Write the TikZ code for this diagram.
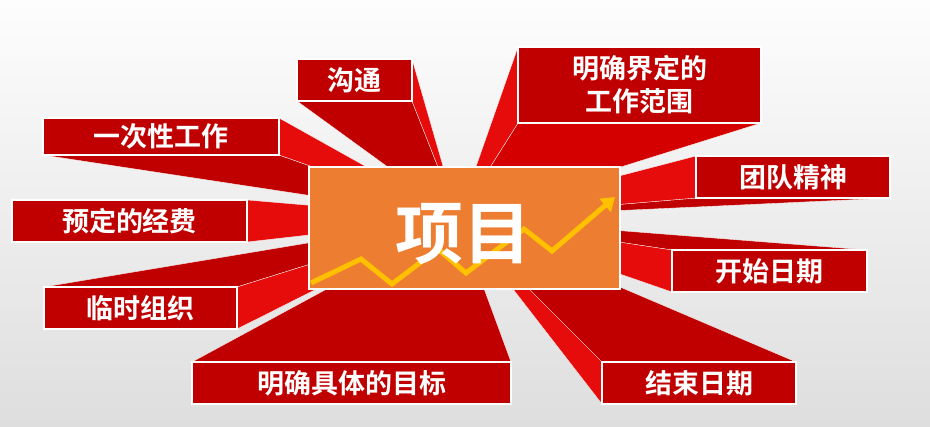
\documentclass[tikz,border=0pt]{standalone}
\usepackage{fontspec}
\newfontfamily\cjk{Noto Sans CJK SC}[BoldFont={Noto Sans CJK SC Bold}]
\usetikzlibrary{arrows.meta}
\definecolor{dred}{HTML}{C00000}
\definecolor{lred}{HTML}{E60C0C}
\definecolor{mred}{HTML}{D40000}
\definecolor{orng}{HTML}{ED7D31}
\definecolor{gold}{HTML}{FFC000}
\definecolor{bgtop}{HTML}{FDFDFD}
\definecolor{bgmid}{HTML}{F6F6F6}
\definecolor{bgbot}{HTML}{DEDEDE}
\pgfdeclarelayer{back}
\pgfdeclarelayer{faces}
\pgfsetlayers{back,faces,main}
\begin{document}
\begin{tikzpicture}[x=1pt,y=-1pt,
  lbl/.style={fill=dred,draw=white,line width=1.2pt,text=white,
    font=\cjk\bfseries\fontsize{27}{33}\selectfont,inner sep=0pt,outer sep=0pt,align=center},
  darkface/.style={fill=dred,draw=white,line width=0.3pt},
  lightface/.style={fill=lred,draw=white,line width=0.3pt},
  midface/.style={fill=mred,draw=white,line width=0.3pt},
  centerbox/.style={fill=orng,draw=white,line width=2pt,inner sep=0pt,outer sep=0pt},
  trend/.style={draw=gold,line width=5pt,line join=miter}]
\useasboundingbox (0,0) rectangle (930,427);
\begin{pgfonlayer}{back}
\shade[top color=bgtop,middle color=bgmid,bottom color=bgbot] (0,0) rectangle (930,427);
\end{pgfonlayer}

\coordinate (V) at (458,218);

% label boxes
\node[lbl,minimum width=115pt,minimum height=42pt] (goutong) at (354.5,80) {沟通};
\node[lbl,minimum width=236pt,minimum height=37pt] (yici) at (161,136.5) {一次性工作};
\node[lbl,minimum width=235pt,minimum height=42pt] (yuding) at (129.5,221) {预定的经费};
\node[lbl,minimum width=193pt,minimum height=42pt] (linshi) at (140.5,308) {临时组织};
\node[lbl,minimum width=319pt,minimum height=42pt] (mubiao) at (351.5,383) {明确具体的目标};
\node[lbl,minimum width=194pt,minimum height=42pt] (jieshu) at (699,383) {结束日期};
\node[lbl,minimum width=195pt,minimum height=42pt] (kaishi) at (769.5,271) {开始日期};
\node[lbl,minimum width=194pt,minimum height=42pt] (tuandui) at (793,177) {团队精神};
\node[lbl,minimum width=243pt,minimum height=76pt] (fanwei) at (639.5,85) {明确界定的\\工作范围};

% faces toward the vanishing point (behind labels and centre box)
\begin{pgfonlayer}{faces}
\fill[darkface] (goutong.south west) -- (goutong.south east) -- (V) -- cycle;
\fill[lightface] (goutong.north east) -- (goutong.south east) -- (V) -- cycle;
\fill[darkface] (yici.south west) -- (yici.south east) -- (V) -- cycle;
\fill[lightface] (yici.north east) -- (yici.south east) -- (V) -- cycle;
\fill[lightface] (yuding.north east) -- (yuding.south east) -- (V) -- cycle;
\fill[darkface] (linshi.north west) -- (linshi.north east) -- (V) -- cycle;
\fill[lightface] (linshi.north east) -- (linshi.south east) -- (V) -- cycle;
\fill[darkface] (mubiao.north west) -- (mubiao.north east) -- (V) -- cycle;
\fill[darkface] (jieshu.north west) -- (jieshu.north east) -- (V) -- cycle;
\fill[lightface] (jieshu.north west) -- (jieshu.south west) -- (V) -- cycle;
\fill[darkface] (kaishi.north west) -- (kaishi.north east) -- (V) -- cycle;
\fill[lightface] (kaishi.north west) -- (kaishi.south west) -- (V) -- cycle;
\fill[darkface] (tuandui.south west) -- (tuandui.south east) -- (V) -- cycle;
\fill[lightface] (tuandui.north west) -- (tuandui.south west) -- (V) -- cycle;
\fill[midface] (fanwei.south west) -- (fanwei.south east) -- (V) -- cycle;
\fill[lightface] (fanwei.north west) -- (fanwei.south west) -- (V) -- cycle;
\end{pgfonlayer}

% central box
\node[centerbox,minimum width=311pt,minimum height=122pt] (proj) at (464.5,228) {};
\coordinate (z0) at (311,283);
\coordinate (z7) at (615,197);
\draw[trend,-{Triangle[length=13pt,width=17pt]}] (z0) -- (361,259) -- (392,284) -- (438,249) -- (466,273) -- (524,229) -- (552,251) -- (z7);
\node[text=white,font=\cjk\bfseries\fontsize{68}{70}\selectfont,inner sep=0pt] (title) at (463,234) {项目};
\end{tikzpicture}
\end{document}
